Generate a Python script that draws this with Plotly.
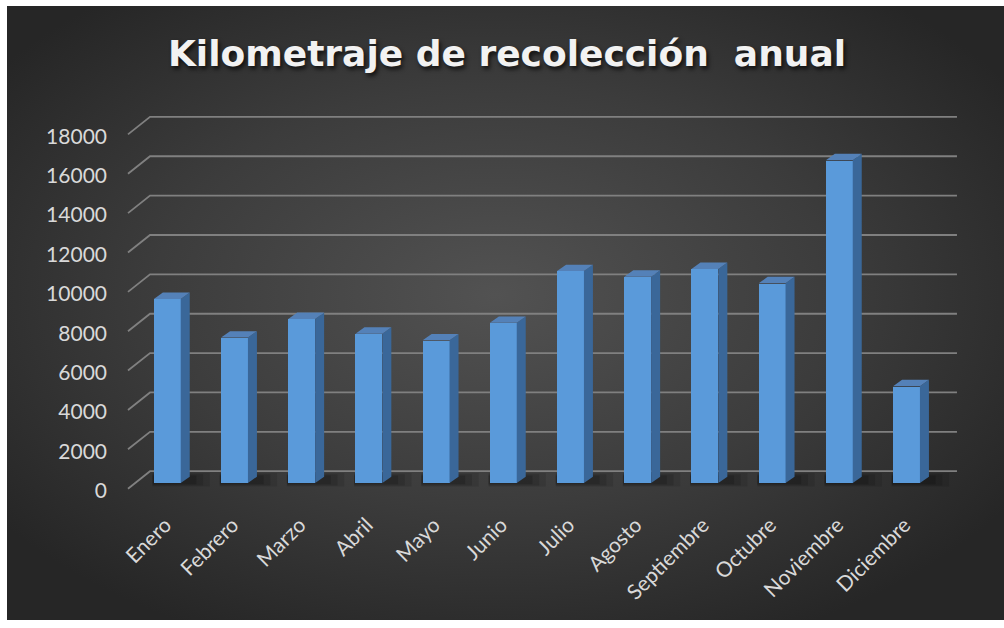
import base64
import plotly.graph_objects as go

# ---------------- data ----------------
months = ["Enero", "Febrero", "Marzo", "Abril", "Mayo", "Junio", "Julio",
          "Agosto", "Septiembre", "Octubre", "Noviembre", "Diciembre"]
km = [9350, 7390, 8340, 7590, 7250, 8140, 10770, 10480, 10880, 10150, 16400, 4920]
y_ticks = [0, 2000, 4000, 6000, 8000, 10000, 12000, 14000, 16000, 18000]
title_text = "Kilometraje de recolección  anual"

# ---------------- geometry / style ----------------
W, H = 1004, 628
BAR_W = 0.40          # front face width (category units)
DX, DY = 0.134, 326   # 3-D depth offset (x in categories, y in value units)
FRONT_DY = -286       # front edge of floor relative to bar front
BACK_DY = 602         # back wall relative to bar front
X_FRONT, X_BACK, X_END = -0.585, -0.257, 11.751
LABEL_DY = -386

FRONT_COL = "#5a9ada"
TOP_COL = "#5481b8"
SIDE_COL = "#3a6799"
TEXT_COL = "#d9d9d9"
GRID_COL = "#808080"

idx = list(range(len(months)))

fig = go.Figure()

# front faces
fig.add_trace(go.Bar(
    x=idx, y=km, width=BAR_W,
    marker=dict(color=FRONT_COL, line=dict(width=0)),
    hoverinfo="skip", showlegend=False,
))

# side faces
sx, sy = [], []
for i, v in zip(idx, km):
    r = i + BAR_W / 2
    sx += [r, r + DX, r + DX, r, r, None]
    sy += [0, DY, v + DY, v, 0, None]
fig.add_trace(go.Scatter(x=sx, y=sy, mode="lines", fill="toself",
                         fillcolor=SIDE_COL, line=dict(width=0),
                         hoverinfo="skip", showlegend=False))
# top faces
tx, ty = [], []
for i, v in zip(idx, km):
    l, r = i - BAR_W / 2, i + BAR_W / 2
    tx += [l, l + DX, r + DX, r, l, None]
    ty += [v, v + DY, v + DY, v, v, None]
fig.add_trace(go.Scatter(x=tx, y=ty, mode="lines", fill="toself",
                         fillcolor=TOP_COL, line=dict(width=0),
                         hoverinfo="skip", showlegend=False))

# back-wall gridlines with the diagonal side-wall stroke
shapes = []
for v in y_ticks:
    shapes.append(dict(
        type="path", xref="x", yref="y", layer="below",
        path=f"M {X_FRONT},{v + FRONT_DY} L {X_BACK},{v + BACK_DY} L {X_END},{v + BACK_DY}",
        line=dict(color=GRID_COL, width=1.8),
    ))
# soft floor shadow below bars (layered for a blurred look)
for i in idx:
    for ext, pad, op in [(0.30, 180, 0.10), (0.20, 120, 0.12), (0.10, 60, 0.15)]:
        shapes.append(dict(
            type="rect", xref="x", yref="y", layer="below",
            x0=i - BAR_W / 2 - 0.02, x1=i + BAR_W / 2 + DX + ext,
            y0=-pad, y1=DY + pad,
            fillcolor=f"rgba(0,0,0,{op})", line=dict(width=0),
        ))

# radial gradient background as svg image
svg = f'''<svg xmlns="http://www.w3.org/2000/svg" width="{W-7}" height="{H-6}" viewBox="0 0 {W-7} {H-6}" preserveAspectRatio="none">
<defs><radialGradient id="g" cx="0.49" cy="0.47" r="0.62" gradientUnits="objectBoundingBox">
<stop offset="0" stop-color="#525252"/><stop offset="0.55" stop-color="#3c3c3c"/><stop offset="1" stop-color="#262626"/>
</radialGradient></defs><rect x="0" y="0" width="{W-7}" height="{H-6}" fill="url(#g)"/></svg>'''
src = "data:image/svg+xml;base64," + base64.b64encode(svg.encode()).decode()

x_px0, x_px1 = 120, 960
y_px_top, y_px_bot = 110, 500
x0_cat = (x_px0 - 133.7) / 67.2 - 0.5
x1_cat = (x_px1 - 133.7) / 67.2 - 0.5
k = 0.01994
y_lo = -(y_px_bot - 489.3) / k
y_hi = (489.3 - y_px_top) / k

fig.update_layout(
    width=W, height=H, autosize=False,
    margin=dict(l=0, r=0, t=0, b=0, pad=0),
    paper_bgcolor="white", plot_bgcolor="rgba(0,0,0,0)",
    images=[dict(source=src, xref="paper", yref="paper",
                 x=7 / W, y=1 - 6 / H, sizex=(W - 7) / W, sizey=(H - 6) / H,
                 sizing="stretch", layer="below", xanchor="left", yanchor="top")],
    shapes=shapes,
    title=dict(text=title_text, x=507 / W, y=1 - 53 / H, xanchor="center", yanchor="middle",
               font=dict(family="DejaVu Sans", size=36, color="#f2f2f2", weight="bold",
                         shadow="2px 3px 4px rgba(0,0,0,0.7)")),
    xaxis=dict(domain=[x_px0 / W, x_px1 / W], range=[x0_cat, x1_cat],
               tickmode="array", tickvals=idx, ticktext=months, tickangle=-45,
               showgrid=False, zeroline=False, showline=False, ticks="",
               ticklabelstandoff=14, ticklabelshift=-2,
               tickfont=dict(family="Lato", size=21, color=TEXT_COL), fixedrange=True),
    yaxis=dict(domain=[1 - y_px_bot / H, 1 - y_px_top / H], range=[y_lo, y_hi],
               tickmode="array", tickvals=[v + LABEL_DY for v in y_ticks],
               ticktext=[str(v) for v in y_ticks],
               showgrid=False, zeroline=False, showline=False, ticks="",
               ticklabelstandoff=12,
               tickfont=dict(family="Lato", size=21, color=TEXT_COL), fixedrange=True),
    bargap=0, showlegend=False,
)

post = ("var gd=document.getElementById('{plot_id}');"
        "gd.style.position='fixed';gd.style.left='0px';gd.style.top='0px';")
fig.write_html("out.html", config={"displayModeBar": False}, post_script=post)
